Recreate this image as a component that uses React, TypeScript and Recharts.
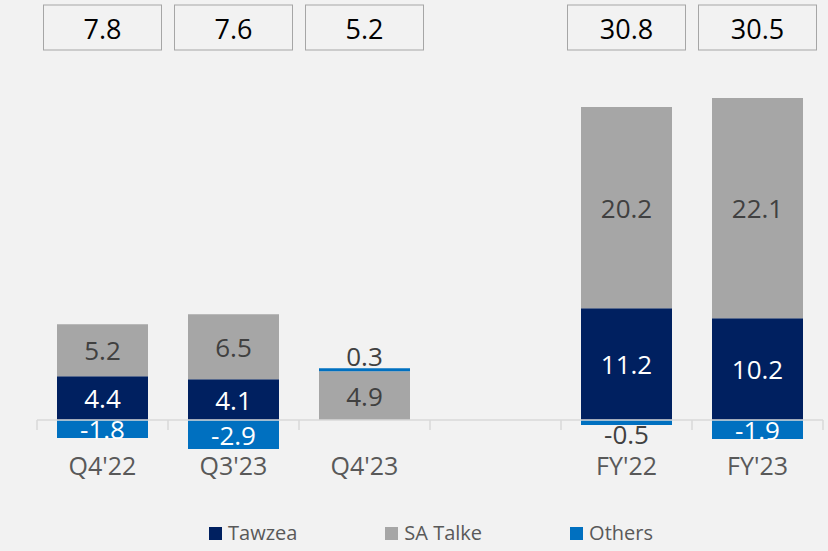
import React from "react";
import { BarChart, Bar, XAxis, YAxis, LabelList, ReferenceLine, Legend } from "recharts";

const categories = ["Q4'22", "Q3'23", "Q4'23", "", "FY'22", "FY'23"];
const tawzea = [4.4, 4.1, 0, 0, 11.2, 10.2];
const saTalke = [5.2, 6.5, 4.9, 0, 20.2, 22.1];
const others = [-1.8, -2.9, 0.3, 0, -0.5, -1.9];
const totals = [7.8, 7.6, 5.2, null, 30.8, 30.5];

const data = categories.map((name, i) => ({
  name,
  tawzea: tawzea[i],
  saTalke: saTalke[i],
  others: others[i],
  total: totals[i],
}));

const FONT = "'Open Sans', sans-serif";
const HALF_BAND = 65.5;

const legendItems = [
  { label: "Tawzea", color: "#002060" },
  { label: "SA Talke", color: "#A6A6A6" },
  { label: "Others", color: "#0070C0" },
];

const CategoryTick = (props: any) => {
  const { x, y, payload, index } = props;
  return (
    <g>
      <line x1={x - HALF_BAND} x2={x - HALF_BAND} y1={y - 30} y2={y - 20} stroke="#D9D9D9" strokeWidth={1.5} />
      {index === categories.length - 1 && (
        <line x1={x + HALF_BAND} x2={x + HALF_BAND} y1={y - 30} y2={y - 20} stroke="#D9D9D9" strokeWidth={1.5} />
      )}
      <text x={x} y={y + 15} textAnchor="middle" dominantBaseline="central" fill="#595959" fontSize={25} fontFamily={FONT}>
        {payload.value}
      </text>
    </g>
  );
};

const centerLabel = (color: string) => (props: any) => {
  const { x, y, width, height, value } = props;
  if (!value) return null;
  return (
    <text x={x + width / 2} y={y + height / 2} textAnchor="middle" dominantBaseline="central" fill={color} fontSize={26} fontFamily={FONT}>
      {Number(value).toFixed(1)}
    </text>
  );
};

const OthersLabel = (props: any) => {
  const { x, y, width, height, value } = props;
  if (!value) return null;
  const top = Math.min(y, y + height);
  const bottom = Math.max(y, y + height);
  const cx = x + width / 2;
  if (Math.abs(value) < 1) {
    const ty = value > 0 ? top - 12 : bottom + 9;
    return (
      <text x={cx} y={ty} textAnchor="middle" dominantBaseline="central" fill="#404040" fontSize={26} fontFamily={FONT}>
        {Number(value).toFixed(1)}
      </text>
    );
  }
  return (
    <text x={cx} y={(top + bottom) / 2} textAnchor="middle" dominantBaseline="central" fill="#FFFFFF" fontSize={26} fontFamily={FONT}>
      {Number(value).toFixed(1)}
    </text>
  );
};

const TotalBox = (props: any) => {
  const { x, width, value } = props;
  if (value == null) return null;
  const cx = x + width / 2;
  return (
    <g>
      <rect x={cx - 59} y={5} width={118} height={45} fill="#F2F2F2" stroke="#A6A6A6" strokeWidth={1} />
      <text x={cx} y={28} textAnchor="middle" dominantBaseline="central" fill="#000000" fontSize={27} fontFamily={FONT}>
        {Number(value).toFixed(1)}
      </text>
    </g>
  );
};

const CustomLegend = () => (
  <div style={{ display: "flex", paddingLeft: 209, paddingTop: 10, fontFamily: FONT, fontSize: 20, color: "#595959", lineHeight: "24px" }}>
    {legendItems.map((item) => (
      <div key={item.label} style={{ display: "flex", alignItems: "center", marginRight: 88 }}>
        <span style={{ width: 13, height: 13, background: item.color, display: "inline-block", marginRight: 6 }} />
        <span>{item.label}</span>
      </div>
    ))}
  </div>
);

export default function App() {
  return (
    <div style={{ width: 828, height: 551, background: "#F2F2F2" }}>
      <style>{"body{margin:0;background:#F2F2F2}"}</style>
      <BarChart
        width={828}
        height={551}
        data={data}
        stackOffset="sign"
        barSize={91}
        margin={{ top: 61, right: 5, left: 37, bottom: 0 }}
      >
        <XAxis
          dataKey="name"
          axisLine={false}
          tickLine={false}
          tickSize={0}
          tickMargin={0}
          height={61}
          interval={0}
          tick={<CategoryTick />}
        />
        <YAxis hide domain={[-3, 36]} allowDataOverflow />
        <Legend verticalAlign="bottom" height={40} wrapperStyle={{ left: 0, width: 828 }} content={<CustomLegend />} />
        <Bar dataKey="tawzea" stackId="a" fill="#002060" isAnimationActive={false}>
          <LabelList dataKey="tawzea" content={centerLabel("#FFFFFF")} />
        </Bar>
        <Bar dataKey="saTalke" stackId="a" fill="#A6A6A6" isAnimationActive={false}>
          <LabelList dataKey="saTalke" content={centerLabel("#404040")} />
        </Bar>
        <Bar dataKey="others" stackId="a" fill="#0070C0" isAnimationActive={false}>
          <LabelList dataKey="others" content={<OthersLabel />} />
          <LabelList dataKey="total" content={<TotalBox />} />
        </Bar>
        <ReferenceLine y={0} stroke="#D9D9D9" strokeWidth={1.5} />
      </BarChart>
    </div>
  );
}
